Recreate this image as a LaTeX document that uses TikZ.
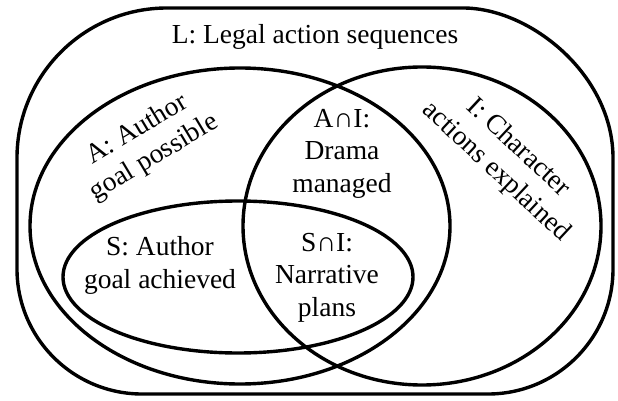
\documentclass[tikz,border=0pt]{standalone}
\usepackage{fontspec}
\setmainfont{Liberation Serif}
\begin{document}
\begin{tikzpicture}[x=1pt,y=-1pt,line width=3.4pt,
  lbl/.style={font=\fontsize{27.5}{32.5}\selectfont,align=center,inner sep=0pt}]
\useasboundingbox (0,0) rectangle (618,401);
% outer set L
\draw (17,269) -- (17,158) .. controls (17,75.2) and (84.2,8) .. (167,8)
  -- (463,8) .. controls (530.8,8) and (613,75.2) .. (613,158)
  -- (613,269) .. controls (613,338) and (557,394) .. (488,394)
  -- (142,394) .. controls (73,394) and (17,338) .. (17,269) -- cycle;
% A, I, S
\draw (240,226) ellipse [x radius=210, y radius=158];
\draw (422,226) ellipse [x radius=179, y radius=159];
\draw (238,277) ellipse [x radius=175, y radius=76];
% labels
\node[lbl,anchor=base] (L) at (315,44) {L: Legal action sequences};
\node[lbl,anchor=base] (AI) at (342,192) {A∩I:\\Drama\\managed};
\node[lbl,anchor=base] (SI) at (327,316) {S∩I:\\Narrative\\plans};
\node[lbl,anchor=base] (S) at (160,288) {S: Author\\goal achieved};
\node[lbl,rotate=31] (A) at (146,144) {A: Author\\goal possible};
\node[lbl,rotate=-43] (I) at (507,160) {I: Character\\actions explained};
\end{tikzpicture}
\end{document}
